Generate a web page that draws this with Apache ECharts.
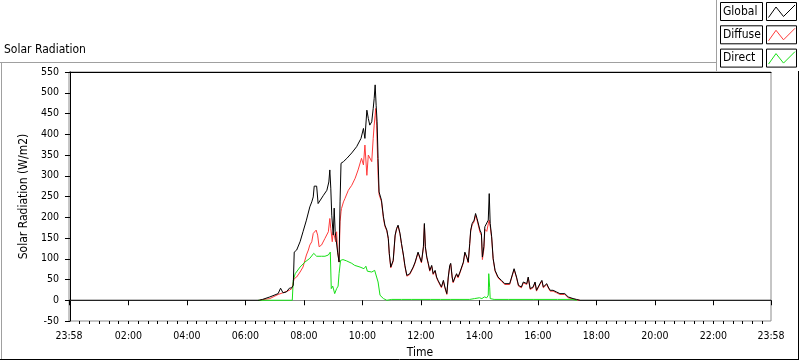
<!DOCTYPE html>
<html>
<head>
<meta charset="utf-8">
<script src="https://cdn.jsdelivr.net/npm/echarts@6/dist/echarts.min.js"></script>
<style>
    html, body { margin: 0; padding: 0; background: #fff; }
    #chart { width: 800px; height: 361px; }
</style>
</head>
<body>
<div id="chart"></div>
<script>
// time is in minutes after midnight, -2 = 23:58 of the day before
const xTickValues = [-2, 120, 240, 360, 480, 600, 720, 840, 960, 1080, 1200, 1320, 1438];
const xTickLabels = ['23:58', '02:00', '04:00', '06:00', '08:00', '10:00', '12:00',
    '14:00', '16:00', '18:00', '20:00', '22:00', '23:58'];
const xMinorTicks = [];
for (let m = 20; m < 1438; m += 20) xMinorTicks.push(m);

const globalTimes = [-2, 388, 395, 410, 427, 432, 437, 444, 450, 455,
    458, 460, 465, 472, 478, 485, 492, 496, 499, 501,
    504, 506, 509, 513, 520, 527, 531, 533, 535, 537,
    540, 542, 544, 547, 549, 552, 554, 556, 561, 568,
    578, 588, 597, 602, 605, 609, 612, 615, 619, 622,
    624, 626, 628, 630, 632, 634, 639, 643, 646, 650,
    653, 655, 658, 661, 663, 667, 670, 673, 677, 680,
    684, 687, 691, 694, 697, 701, 704, 708, 711, 714,
    718, 721, 725, 727, 729, 732, 735, 738, 742, 745,
    749, 752, 755, 759, 762, 766, 769, 773, 776, 779,
    781, 784, 786, 790, 793, 796, 800, 803, 807, 810,
    814, 817, 820, 822, 825, 829, 832, 835, 839, 841,
    844, 846, 849, 851, 855, 858, 860, 862, 865, 868,
    872, 878, 885, 892, 896, 902, 909, 911, 916, 920,
    926, 930, 937, 940, 944, 950, 954, 957, 964, 968,
    971, 974, 978, 981, 985, 991, 998, 1005, 1015, 1022,
    1032, 1039, 1046, 1438];
const globalValues = [0, 0, 2, 8, 16, 29, 18, 20, 29, 30,
    36, 116, 121, 141, 165, 193, 225, 237, 249, 275,
    278, 275, 233, 237, 253, 265, 285, 314, 270, 205,
    157, 222, 165, 165, 116, 92, 237, 330, 334, 342,
    355, 370, 390, 414, 390, 458, 438, 422, 430, 462,
    486, 519, 470, 430, 342, 261, 241, 201, 181, 169,
    149, 113, 80, 76, 96, 157, 173, 181, 161, 137,
    109, 84, 60, 56, 64, 60, 80, 92, 104, 116,
    113, 92, 129, 185, 129, 104, 89, 72, 84, 64,
    72, 56, 48, 44, 32, 48, 32, 16, 56, 84,
    89, 56, 44, 56, 64, 56, 68, 72, 92, 116,
    104, 92, 137, 169, 185, 193, 209, 197, 201, 169,
    161, 104, 129, 177, 173, 193, 257, 185, 153, 101,
    72, 56, 48, 40, 44, 40, 68, 76, 56, 36,
    32, 44, 40, 56, 28, 32, 44, 24, 40, 48,
    32, 28, 40, 32, 24, 24, 20, 16, 16, 8,
    4, 2, 0, 0];

const diffuseTimes = [388, 410, 427, 437, 450, 455, 458, 460, 465, 472,
    478, 485, 489, 492, 496, 499, 505, 508, 511, 513,
    516, 523, 530, 533, 535, 538, 540, 542, 545, 547,
    549, 552, 554, 556, 557, 561, 564, 571, 578, 585,
    591, 598, 602, 605, 609, 612, 615, 619, 622, 624,
    626, 627, 629, 631, 632, 634, 639, 643, 646, 650,
    653, 655, 658, 661, 663, 667, 670, 673, 677, 680,
    684, 687, 691, 694, 697, 701, 704, 708, 711, 714,
    718, 721, 725, 727, 729, 732, 735, 738, 742, 745,
    749, 752, 755, 759, 762, 766, 769, 773, 776, 779,
    781, 784, 786, 790, 793, 796, 800, 803, 807, 810,
    814, 817, 820, 822, 825, 829, 832, 835, 839, 841,
    844, 846, 849, 851, 855, 858, 860, 862, 865, 868,
    872, 878, 885, 892, 896, 902, 909, 911, 916, 920,
    926, 930, 937, 940, 944, 950, 954, 957, 964, 968,
    971, 974, 978, 981, 985, 991, 998, 1005, 1015, 1022,
    1032, 1039, 1046];
const diffuseValues = [0, 4, 14, 18, 24, 28, 32, 52, 56, 68,
    80, 109, 121, 133, 141, 161, 169, 157, 129, 125,
    133, 149, 165, 197, 173, 141, 165, 157, 141, 165,
    116, 92, 189, 213, 221, 237, 245, 265, 277, 294,
    314, 342, 326, 374, 301, 350, 350, 334, 390, 422,
    446, 462, 422, 342, 301, 255, 237, 197, 178, 167,
    147, 111, 78, 74, 94, 155, 171, 179, 159, 135,
    107, 82, 58, 54, 62, 58, 78, 90, 102, 114,
    111, 90, 127, 182, 127, 102, 87, 70, 82, 62,
    70, 54, 46, 42, 30, 46, 30, 14, 54, 82,
    87, 54, 42, 54, 62, 54, 66, 70, 90, 114,
    102, 90, 135, 166, 182, 189, 205, 193, 197, 164,
    156, 98, 123, 171, 166, 184, 193, 178, 150, 99,
    70, 54, 46, 38, 42, 38, 66, 74, 54, 34,
    30, 42, 38, 54, 26, 30, 42, 22, 38, 46,
    30, 26, 38, 30, 22, 22, 18, 14, 14, 6,
    3, 1, 0];

const directTimes = [386, 456, 458, 462, 472, 482, 492, 500, 506, 516,
    523, 530, 534, 536, 539, 541, 543, 547, 550, 552,
    555, 560, 567, 578, 584, 595, 603, 607, 610, 612,
    619, 625, 629, 632, 636, 643, 650, 660, 680, 700,
    720, 740, 760, 780, 800, 820, 830, 840, 845, 850,
    855, 858, 859, 861, 862, 870, 900, 950, 1000, 1030,
    1040];
const directValues = [0, 0, 48, 64, 80, 92, 101, 113, 106, 106,
    106, 109, 116, 28, 34, 36, 16, 28, 34, 64,
    96, 98, 95, 89, 84, 80, 76, 82, 70, 72,
    68, 72, 68, 44, 12, 4, 0, 2, 2, 2,
    2, 2, 2, 2, 2, 2, 4, 6, 4, 8,
    6, 12, 64, 30, 4, 2, 2, 2, 2, 2,
    0];

const legendNames = ['Global', 'Diffuse', 'Direct'];
const seriesColors = ['#000000', '#ff3a3a', '#16e016'];

const font = 'DejaVu Sans Condensed';

function zip(times, values) {
    return times.map((t, i) => [t, values[i]]);
}

const chart = echarts.init(document.getElementById('chart'));

// legend boxes drawn like the original panel
const legendGraphics = [{
    type: 'rect', z: 100,
    shape: { x: 717, y: 0, width: 83, height: 71 },
    style: { fill: '#fff', stroke: null }
}, {
    type: 'line', z: 101,
    shape: { x1: 716.5, y1: 0, x2: 716.5, y2: 71 },
    style: { stroke: '#a0a0a0', lineWidth: 1 }
}];
legendNames.forEach((name, i) => {
    const top = 2.5 + i * 23.3;
    legendGraphics.push({
        type: 'rect', z: 101,
        shape: { x: 720.5, y: top, width: 42, height: 18 },
        style: { fill: '#fff', stroke: '#000', lineWidth: 1 }
    }, {
        type: 'text', z: 102, x: 723, y: top + 9,
        style: { text: name, fill: '#000', font: '12px "' + font + '"', verticalAlign: 'middle' }
    }, {
        type: 'rect', z: 101,
        shape: { x: 766.5, y: top, width: 30, height: 18 },
        style: { fill: '#fff', stroke: '#000', lineWidth: 1 }
    }, {
        type: 'polyline', z: 102,
        shape: { points: [[768.5, top + 15], [776, top + 4.5], [783.5, top + 14], [795, top + 2.5]] },
        style: { stroke: seriesColors[i], lineWidth: 1, fill: null }
    });
});

const option = {
    animation: false,
    backgroundColor: '#fff',
    textStyle: { fontFamily: font },
    grid: {
        left: 69, right: 29, top: 72, bottom: 40,
        outerBoundsMode: 'none', containLabel: false,
        show: true, borderColor: '#8c8c8c', borderWidth: 1, backgroundColor: '#fff'
    },
    xAxis: [{
        type: 'value', min: -2, max: 1438,
        name: 'Time', nameLocation: 'middle', nameGap: 26,
        nameTextStyle: { fontSize: 12, color: '#000', fontFamily: font },
        axisLine: { lineStyle: { color: '#8c8c8c', width: 1 } },
        axisTick: { customValues: xTickValues, length: 5, lineStyle: { color: '#000' } },
        axisLabel: {
            customValues: xTickValues, margin: 10, fontSize: 10.5, color: '#000', fontFamily: font,
            formatter: v => xTickLabels[xTickValues.indexOf(v)]
        },
        splitLine: { show: false }
    }, {
        type: 'value', min: -2, max: 1438, position: 'bottom',
        axisLine: { show: false },
        axisTick: { customValues: xMinorTicks, length: 3, lineStyle: { color: '#000' } },
        axisLabel: { show: false },
        splitLine: { show: false }
    }, {
        type: 'value', min: -2, max: 1438, position: 'top',
        axisLine: { lineStyle: { color: '#000', width: 1 } },
        axisTick: { show: false }, axisLabel: { show: false },
        splitLine: { show: false }
    }],
    yAxis: {
        type: 'value', min: -50, max: 550, interval: 50,
        name: 'Solar Radiation (W/m2)', nameLocation: 'middle', nameGap: 37,
        nameTextStyle: { fontSize: 12, color: '#000', fontFamily: font },
        axisLine: { show: true, lineStyle: { color: '#000', width: 1 } },
        axisTick: { show: true, length: 5, lineStyle: { color: '#000' } },
        axisLabel: { margin: 10, fontSize: 10.5, color: '#000', fontFamily: font },
        splitLine: { show: false }
    },
    graphic: [{
        type: 'text', x: 4, y: 50,
        style: { text: 'Solar Radiation', fill: '#000', font: '12px "' + font + '"', verticalAlign: 'middle' }
    }, {
        type: 'line', shape: { x1: 0, y1: 62.5, x2: 716, y2: 62.5 },
        style: { stroke: '#a0a0a0', lineWidth: 1 }
    }, {
        type: 'line', shape: { x1: 1.5, y1: 62, x2: 1.5, y2: 359 },
        style: { stroke: '#a0a0a0', lineWidth: 1 }
    }, {
        type: 'line', shape: { x1: 0, y1: 359.5, x2: 799, y2: 359.5 },
        style: { stroke: '#000', lineWidth: 1 }
    }, {
        type: 'line', shape: { x1: 798.5, y1: 62, x2: 798.5, y2: 360 },
        style: { stroke: '#000', lineWidth: 1 }
    }].concat(legendGraphics),
    series: [{
        name: 'Diffuse', type: 'line', data: zip(diffuseTimes, diffuseValues),
        showSymbol: false, lineStyle: { color: seriesColors[1], width: 1 }
    }, {
        name: 'Direct', type: 'line', data: zip(directTimes, directValues),
        showSymbol: false, lineStyle: { color: seriesColors[2], width: 1 }
    }, {
        name: 'Global', type: 'line', data: zip(globalTimes, globalValues),
        showSymbol: false, lineStyle: { color: seriesColors[0], width: 1 }
    }]
};
chart.setOption(option);
</script>
</body>
</html>
